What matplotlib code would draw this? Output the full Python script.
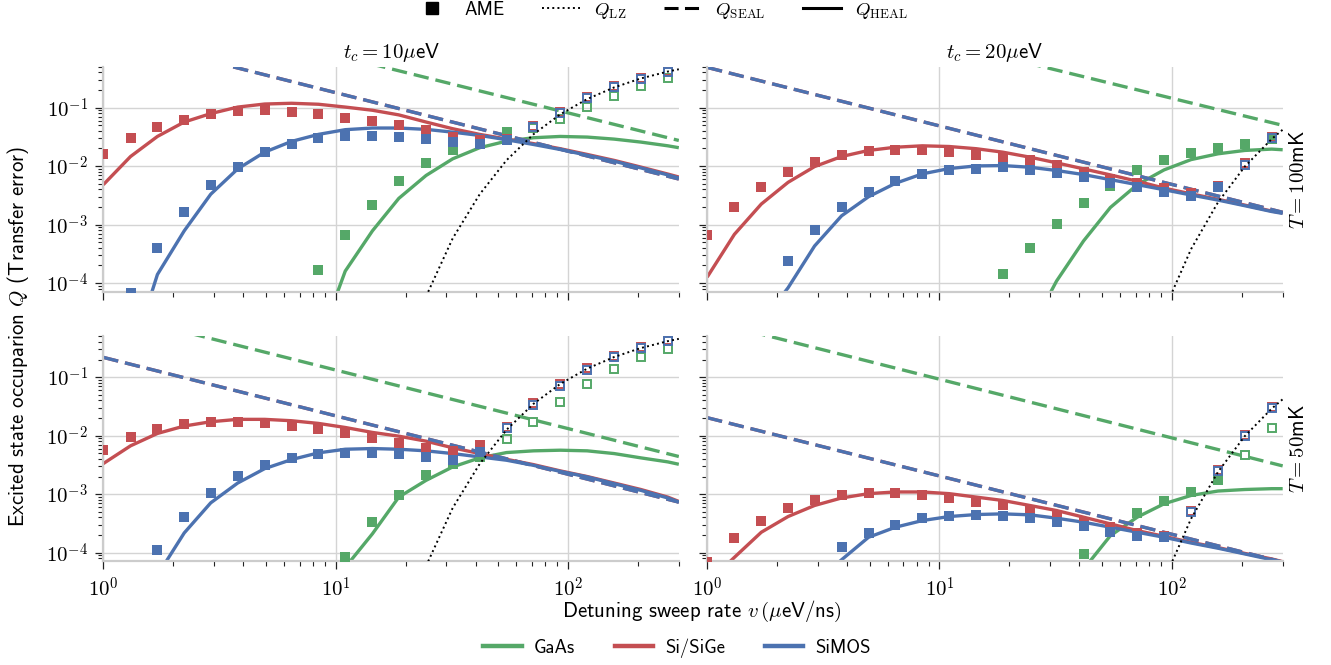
import numpy as np
import matplotlib
matplotlib.use("Agg")
import matplotlib.pyplot as plt
from matplotlib.lines import Line2D
from matplotlib.ticker import LogLocator, FuncFormatter, NullFormatter

nan = np.nan

# ---------------- data ----------------
# detuning sweep rates (ueV/ns) of the AME points; curves add the end point 300
v_ame = [1.00, 1.31, 1.71, 2.23, 2.90, 3.79, 4.95, 6.46, 8.43, 11.0, 14.4,
         18.7, 24.5, 31.9, 41.7, 54.4, 71.0, 92.6, 121.0, 158.0, 206.0, 269.0]
v_curve = v_ame + [300.0]
v_seal = [1.0, 300.0]

materials = ["GaAs", "Si/SiGe", "SiMOS"]
col_titles = [r"$t_c = 10\mu$eV", r"$t_c = 20\mu$eV"]
row_titles = [r"$T = 100$mK", r"$T = 50$mK"]

# Landau-Zener curve (depends on t_c only)
qlz_tc10 = [nan, nan, nan, nan, nan, nan, nan, nan, nan, nan, nan, nan,
            5.9e-5, 5.8e-4, 3.3e-3, 0.0126, 0.0349, 0.0766, 0.140, 0.221, 0.315, 0.413, 0.452]
qlz_tc20 = [nan, nan, nan, nan, nan, nan, nan, nan, nan, nan, nan, nan, nan, nan, nan, nan, nan,
            3.4e-5, 3.8e-4, 2.4e-3, 9.8e-3, 0.029, 0.0419]

# ---- T = 100 mK, t_c = 10 ueV ----
ame_gaas_T100_tc10 = [nan, nan, nan, nan, nan, nan, nan, nan, 1.64e-4, 6.65e-4, 2.18e-3, 5.48e-3,
                      0.01135, 0.019, 0.025, 0.038, 0.044, 0.0646, 0.102, 0.158, 0.232, 0.315]
ame_sige_T100_tc10 = [0.0162, 0.0301, 0.0459, 0.0621, 0.0767, 0.0863, 0.090, 0.084, 0.077, 0.0672, 0.0582,
                      0.0497, 0.042, 0.032, 0.0275, 0.029, 0.049, 0.085, 0.150, 0.232, 0.32, 0.43]
ame_simos_T100_tc10 = [nan, 6.8e-5, 4.03e-4, 1.65e-3, 4.75e-3, 9.8e-3, 0.0171, 0.024, 0.0297, 0.033, 0.033,
                       0.032, 0.0293, 0.0257, 0.0234, 0.0274, 0.0464, 0.081, 0.143, 0.221, 0.306, 0.409]
heal_gaas_T100_tc10 = [nan, nan, nan, nan, nan, nan, nan, nan, 9e-6, 1.6e-4, 7.8e-4, 2.8e-3, 6.9e-3,
                       0.0133, 0.0206, 0.0267, 0.0305, 0.0321, 0.0313, 0.0289, 0.0257, 0.0222, 0.0206]
heal_sige_T100_tc10 = [4.8e-3, 0.01456, 0.0321, 0.0566, 0.0789, 0.102, 0.115, 0.1185, 0.114, 0.102, 0.09,
                       0.075, 0.0566, 0.0435, 0.0348, 0.0290, 0.0242, 0.0198, 0.0158, 0.0125, 0.0096,
                       0.0073, 0.0065]
heal_simos_T100_tc10 = [nan, 5e-6, 1.4e-4, 7.8e-4, 3.3e-3, 8.95e-3, 0.0173, 0.0264, 0.0348, 0.0419, 0.0447,
                        0.0447, 0.0424, 0.038, 0.0334, 0.0282, 0.0234, 0.0192, 0.0153, 0.0121, 0.0093,
                        0.00706, 0.00626]
seal_gaas_T100_tc10 = [7.7, 0.0274]
seal_sige_T100_tc10 = [1.8, 0.0060]
seal_simos_T100_tc10 = [1.8, 0.0060]

# ---- T = 100 mK, t_c = 20 ueV ----
ame_gaas_T100_tc20 = [nan, nan, nan, nan, nan, nan, nan, nan, nan, nan, nan, 1.4e-4, 3.93e-4, 1.02e-3,
                      2.3e-3, 4.6e-3, 8.4e-3, 0.0128, 0.0166, 0.0206, 0.024, 0.029]
ame_sige_T100_tc20 = [6.65e-4, 1.96e-3, 4.32e-3, 7.8e-3, 0.0116, 0.0153, 0.018, 0.019, 0.0185, 0.0173, 0.0153,
                      0.0142, 0.0125, 0.0105, 8.0e-3, 6.0e-3, 5.2e-3, 4.2e-3, 3.5e-3, 4.6e-3, 0.0112, 0.032]
ame_simos_T100_tc20 = [nan, nan, nan, 2.38e-4, 8.1e-4, 2.0e-3, 3.65e-3, 5.6e-3, 7.35e-3, 8.6e-3, 8.95e-3,
                       9.55e-3, 8.4e-3, 7.5e-3, 6.4e-3, 5.07e-3, 4.45e-3, 3.55e-3, 3.11e-3, 4.45e-3,
                       0.0106, 0.0305]
heal_gaas_T100_tc20 = [nan, nan, nan, nan, nan, nan, nan, nan, nan, nan, nan, nan, 1.5e-5, 1.08e-4,
                       5.25e-4, 1.96e-3, 4.8e-3, 8.6e-3, 0.0129, 0.0162, 0.0185, 0.0195, 0.019]
heal_sige_T100_tc20 = [1.26e-4, 6.8e-4, 2.24e-3, 5.27e-3, 9.8e-3, 0.01456, 0.0185, 0.021, 0.0222, 0.0216,
                       0.0198, 0.0173, 0.0142, 0.01135, 8.95e-3, 7.06e-3, 5.5e-3, 4.2e-3, 3.35e-3, 2.7e-3,
                       2.15e-3, 1.7e-3, 1.58e-3]
heal_simos_T100_tc20 = [nan, nan, 2.1e-5, 8.3e-5, 4.3e-4, 1.41e-3, 2.99e-3, 5.07e-3, 7.35e-3, 9.06e-3,
                        0.01006, 0.0102, 9.55e-3, 8.4e-3, 7.15e-3, 5.86e-3, 4.81e-3, 3.94e-3, 3.2e-3,
                        2.62e-3, 2.1e-3, 1.67e-3, 1.55e-3]
seal_gaas_T100_tc20 = [12.6, 0.0497]
seal_sige_T100_tc20 = [0.486, 0.00162]
seal_simos_T100_tc20 = [0.486, 0.00162]

# ---- T = 50 mK, t_c = 10 ueV ----
ame_gaas_T50_tc10 = [nan, nan, nan, nan, nan, nan, nan, nan, nan, 8.3e-5, 3.4e-4, 9.77e-4, 2.1e-3, 3.3e-3,
                     4.3e-3, 8.6e-3, 0.0173, 0.0382, 0.0758, 0.139, 0.218, 0.303]
ame_sige_T50_tc10 = [5.6e-3, 9.3e-3, 0.0128, 0.0158, 0.0169, 0.0169, 0.0162, 0.0146, 0.0129, 0.0109, 9.2e-3,
                     7.6e-3, 6.2e-3, 5.42e-3, 6.9e-3, 0.0142, 0.0355, 0.077, 0.141, 0.23, 0.33, 0.43]
ame_simos_T50_tc10 = [nan, nan, 1.12e-4, 4.14e-4, 1.06e-3, 2.01e-3, 3.11e-3, 4.17e-3, 4.89e-3, 5.14e-3,
                      5.0e-3, 4.81e-3, 4.33e-3, 3.8e-3, 5.28e-3, 0.0133, 0.0334, 0.072, 0.133, 0.218,
                      0.315, 0.41]
heal_gaas_T50_tc10 = [nan, nan, nan, nan, nan, nan, nan, nan, 5e-6, 5.6e-5, 2.1e-4, 8.9e-4, 1.72e-3, 2.92e-3,
                      4.17e-3, 5.14e-3, 5.5e-3, 5.64e-3, 5.5e-3, 4.94e-3, 4.17e-3, 3.56e-3, 3.24e-3]
heal_sige_T50_tc10 = [3.33e-3, 6.7e-3, 0.0109, 0.0146, 0.0173, 0.019, 0.019, 0.018, 0.0162, 0.0138, 0.01136,
                      9.8e-3, 8.05e-3, 6.2e-3, 4.94e-3, 3.94e-3, 3.2e-3, 2.5e-3, 2.0e-3, 1.55e-3, 1.2e-3,
                      8.9e-4, 7.5e-4]
heal_simos_T50_tc10 = [nan, nan, 4.1e-5, 2.17e-4, 7.1e-4, 1.55e-3, 2.73e-3, 3.9e-3, 5.08e-3, 5.86e-3,
                       6.02e-3, 5.86e-3, 5.5e-3, 4.94e-3, 4.33e-3, 3.8e-3, 3.11e-3, 2.45e-3, 1.97e-3,
                       1.51e-3, 1.16e-3, 8.6e-4, 7.3e-4]
seal_gaas_T50_tc10 = [1.33, 4.4e-3]
seal_sige_T50_tc10 = [0.218, 7.3e-4]
seal_simos_T50_tc10 = [0.218, 7.3e-4]

# ---- T = 50 mK, t_c = 20 ueV ----
ame_gaas_T50_tc20 = [nan, nan, nan, nan, nan, nan, nan, nan, nan, nan, nan, nan, nan, nan, 9.5e-5, 2.4e-4,
                     4.73e-4, 7.5e-4, 1.09e-3, 1.72e-3, 4.6e-3, 0.0137]
ame_sige_T50_tc20 = [7e-5, 1.76e-4, 3.53e-4, 5.77e-4, 7.8e-4, 9.5e-4, 1.04e-3, 1.04e-3, 9.77e-4, 8.67e-4,
                     7.3e-4, 6.4e-4, 5.25e-4, 4.3e-4, 3.4e-4, 2.7e-4, 2.2e-4, 1.9e-4, 5.1e-4, 2.55e-3,
                     0.0102, 0.0305]
ame_simos_T50_tc20 = [nan, nan, nan, nan, nan, 1.23e-4, 2.17e-4, 2.98e-4, 3.88e-4, 4.3e-4, 4.43e-4, 4.2e-4,
                      3.88e-4, 3.4e-4, 2.83e-4, 2.29e-4, 1.95e-4, 1.83e-4, 4.93e-4, 2.45e-3, 9.8e-3, 0.0293]
heal_gaas_T50_tc20 = [nan, nan, nan, nan, nan, nan, nan, nan, nan, nan, nan, nan, nan, nan, 5.2e-5, 1.95e-4,
                      4.04e-4, 6.84e-4, 9.5e-4, 1.13e-3, 1.2e-3, 1.24e-3, 1.24e-3]
heal_sige_T50_tc20 = [3e-5, 8.3e-5, 2.23e-4, 4.14e-4, 6.4e-4, 8.6e-4, 1.02e-3, 1.09e-3, 1.09e-3, 1.02e-3,
                      8.9e-4, 7.8e-4, 6.4e-4, 5.25e-4, 4.04e-4, 3.1e-4, 2.38e-4, 1.9e-4, 1.5e-4, 1.22e-4,
                      9.7e-5, 7.8e-5, 7.0e-5]
heal_simos_T50_tc20 = [nan, nan, nan, nan, 3e-5, 7.55e-5, 1.83e-4, 2.72e-4, 3.53e-4, 4.14e-4, 4.48e-4,
                       4.6e-4, 4.43e-4, 3.88e-4, 3.31e-4, 2.72e-4, 2.23e-4, 1.83e-4, 1.46e-4, 1.19e-4,
                       9.5e-5, 7.55e-5, 6.8e-5]
seal_gaas_T50_tc20 = [0.93, 3.04e-3]
seal_sige_T50_tc20 = [0.0203, 6.9e-5]
seal_simos_T50_tc20 = [0.0203, 6.9e-5]

# index of the first open (hollow) AME marker for GaAs, Si/SiGe, SiMOS
open_from_T100_tc10 = [16, 16, 16]
open_from_T100_tc20 = [22, 20, 20]
open_from_T50_tc10 = [15, 15, 15]
open_from_T50_tc20 = [20, 18, 18]

panels = {
    (0, 0): dict(lz=qlz_tc10, ame=[ame_gaas_T100_tc10, ame_sige_T100_tc10, ame_simos_T100_tc10],
                 heal=[heal_gaas_T100_tc10, heal_sige_T100_tc10, heal_simos_T100_tc10],
                 seal=[seal_gaas_T100_tc10, seal_sige_T100_tc10, seal_simos_T100_tc10],
                 open_from=open_from_T100_tc10),
    (0, 1): dict(lz=qlz_tc20, ame=[ame_gaas_T100_tc20, ame_sige_T100_tc20, ame_simos_T100_tc20],
                 heal=[heal_gaas_T100_tc20, heal_sige_T100_tc20, heal_simos_T100_tc20],
                 seal=[seal_gaas_T100_tc20, seal_sige_T100_tc20, seal_simos_T100_tc20],
                 open_from=open_from_T100_tc20),
    (1, 0): dict(lz=qlz_tc10, ame=[ame_gaas_T50_tc10, ame_sige_T50_tc10, ame_simos_T50_tc10],
                 heal=[heal_gaas_T50_tc10, heal_sige_T50_tc10, heal_simos_T50_tc10],
                 seal=[seal_gaas_T50_tc10, seal_sige_T50_tc10, seal_simos_T50_tc10],
                 open_from=open_from_T50_tc10),
    (1, 1): dict(lz=qlz_tc20, ame=[ame_gaas_T50_tc20, ame_sige_T50_tc20, ame_simos_T50_tc20],
                 heal=[heal_gaas_T50_tc20, heal_sige_T50_tc20, heal_simos_T50_tc20],
                 seal=[seal_gaas_T50_tc20, seal_sige_T50_tc20, seal_simos_T50_tc20],
                 open_from=open_from_T50_tc20),
}

# ---------------- style ----------------
colors = ["#55A868", "#C44E52", "#4C72B0"]
FS = 15        # axis labels, titles, tick labels
FS_LEG = 13.5  # legends
plt.rcParams.update({
    "font.family": ["cmss10", "DejaVu Sans"],
    "mathtext.fontset": "cm",
    "font.size": FS,
    "axes.unicode_minus": False,
    "axes.formatter.use_mathtext": True,
})

fig, axes = plt.subplots(2, 2, figsize=(13.31, 6.65), dpi=100, sharex=True, sharey=True)
fig.subplots_adjust(left=0.0776, right=0.9637, top=0.8997, bottom=0.1559,
                    wspace=0.0492, hspace=0.198)

dash = (0, (4.6, 2.1))
pow_fmt = FuncFormatter(lambda val, pos: r"$10^{%d}$" % int(round(np.log10(val))))

v_a = np.array(v_ame)
v_c = np.array(v_curve)
for (r, c), d in panels.items():
    ax = axes[r, c]
    ax.set_xscale("log")
    ax.set_yscale("log")
    for k in range(3):
        ax.plot(v_seal, d["seal"][k], color=colors[k], ls=dash, lw=2.4, zorder=2)
        ax.plot(v_c, np.array(d["heal"][k], dtype=float), color=colors[k], lw=2.4, zorder=2,
                solid_capstyle="butt")
    ax.plot(v_c, np.array(d["lz"], dtype=float), color="black", ls=":", lw=1.4, zorder=5)
    for k in range(3):
        y = np.array(d["ame"][k], dtype=float)
        n = d["open_from"][k]
        ax.plot(v_a[:n], y[:n], ls="none", marker="s", ms=6.6, mew=0, color=colors[k], zorder=4)
        ax.plot(v_a[n:], y[n:], ls="none", marker="s", ms=6.0, mfc="none", mec=colors[k],
                mew=1.4, zorder=4)

    ax.set_xlim(1, 300)
    ax.set_ylim(7.1e-5, 0.5)
    ax.xaxis.set_major_locator(LogLocator(base=10, numticks=10))
    ax.xaxis.set_minor_locator(LogLocator(base=10, subs=np.arange(2, 10), numticks=20))
    ax.yaxis.set_major_locator(LogLocator(base=10, numticks=10))
    ax.yaxis.set_minor_locator(LogLocator(base=10, subs=np.arange(2, 10), numticks=20))
    ax.xaxis.set_major_formatter(pow_fmt)
    ax.yaxis.set_major_formatter(pow_fmt)
    ax.xaxis.set_minor_formatter(NullFormatter())
    ax.yaxis.set_minor_formatter(NullFormatter())
    ax.grid(True, which="major", color="#d4d4d4", lw=1.0)
    ax.set_axisbelow(True)
    for s in ["top", "right"]:
        ax.spines[s].set_visible(False)
    for s in ["left", "bottom"]:
        ax.spines[s].set_color("#cccccc")
        ax.spines[s].set_linewidth(1.6)
    ax.tick_params(which="major", length=6, width=0.9, color="#222222", labelsize=FS, pad=5)
    ax.tick_params(which="minor", length=3.6, width=0.8, color="#222222")
    if r == 0:
        ax.set_title(col_titles[c], fontsize=FS, pad=6)
    else:
        ax.tick_params(axis="x", labelbottom=True)

# row labels on the right
for r in range(2):
    bb = axes[r, 1].get_position()
    fig.text(1299 / 1331, (bb.y0 + bb.y1) / 2, row_titles[r], rotation=90,
             ha="center", va="center", fontsize=FS)

fig.text(18 / 1331, 1 - 336 / 665, r"Excited state occuparion $Q$ (Transfer error)",
         rotation=90, ha="center", va="center", fontsize=FS)
fig.text(702 / 1331, 1 - 611 / 665, r"Detuning sweep rate $v\,(\mu$eV/ns$)$",
         ha="center", va="center", fontsize=FS)

# legends
top_handles = [Line2D([], [], ls="none", marker="s", ms=9, color="black"),
               Line2D([], [], ls=":", lw=1.4, color="black"),
               Line2D([], [], ls=dash, lw=2.2, color="black"),
               Line2D([], [], ls="-", lw=2.2, color="black")]
top_labels = ["AME", r"$Q_{\rm LZ}$", r"$Q_{\rm SEAL}$", r"$Q_{\rm HEAL}$"]
fig.legend(top_handles, top_labels, loc="center", bbox_to_anchor=(660.5 / 1331, 1 - 11 / 665),
           ncol=4, frameon=False, fontsize=FS_LEG, handlelength=2.0, columnspacing=2.0,
           handletextpad=0.75, borderpad=0)

mat_handles = [Line2D([], [], color=colors[k], lw=3.2) for k in range(3)]
fig.legend(mat_handles, materials, loc="center", bbox_to_anchor=(677 / 1331, 1 - 648 / 665),
           ncol=3, frameon=False, fontsize=FS_LEG, handlelength=2.05, columnspacing=2.13,
           handletextpad=0.64, borderpad=0)

fig.savefig("out.png", dpi=100)
